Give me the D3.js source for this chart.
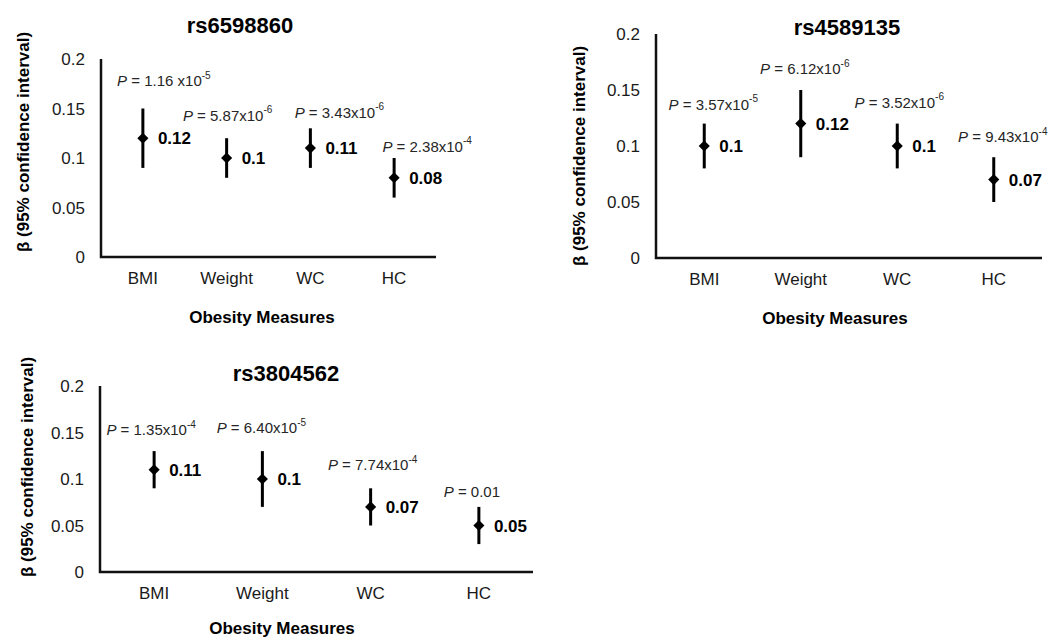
<!DOCTYPE html>
<html>
<head>
<meta charset="utf-8">
<script src="https://cdn.jsdelivr.net/npm/d3@7"></script>
<style>
  body { margin: 0; background: #fff; }
  text { font-family: "Liberation Sans", Arial, sans-serif; }
</style>
</head>
<body>
<div id="main"></div>
<script>
// ---- data ----
let measures = ['BMI', 'Weight', 'WC', 'HC'];
let snps = ['rs6598860', 'rs4589135', 'rs3804562'];
let betas  = [[0.12, 0.10, 0.11, 0.08], [0.10, 0.12, 0.10, 0.07], [0.11, 0.10, 0.07, 0.05]];
let ciLow  = [[0.09, 0.08, 0.09, 0.06], [0.08, 0.09, 0.08, 0.05], [0.09, 0.07, 0.05, 0.03]];
let ciHigh = [[0.15, 0.12, 0.13, 0.10], [0.12, 0.15, 0.12, 0.09], [0.13, 0.13, 0.09, 0.07]];
let betaLabels = [['0.12', '0.1', '0.11', '0.08'], ['0.1', '0.12', '0.1', '0.07'], ['0.11', '0.1', '0.07', '0.05']];
let pMantissa = [['1.16 x10', '5.87x10', '3.43x10', '2.38x10'],
                 ['3.57x10', '6.12x10', '3.52x10', '9.43x10'],
                 ['1.35x10', '6.40x10', '7.74x10', '0.01']];
let pExponent = [['-5', '-6', '-6', '-4'], ['-5', '-6', '-6', '-4'], ['-4', '-5', '-4', '']];
let yTicks = [0, 0.05, 0.1, 0.15, 0.2];
let yTickLabels = ['0', '0.05', '0.1', '0.15', '0.2'];
let yTitle = 'β (95% confidence interval)';
let xTitle = 'Obesity Measures';

// ---- layout (pixels), one entry per panel ----
let panels = [
  {x0: 101, x1: 436, yTop: 59, yBot: 257, titleX: 240, titleY: 25, ylabX: 23, ylabY: 142, xtX: 262, xtY: 317,
   pDx: [21, 1, 29, 33], pAt: [0.178, 0.143, 0.146, 0.112]},
  {x0: 656, x1: 1042, yTop: 34, yBot: 258, titleX: 847, titleY: 27, ylabX: 579, ylabY: 156, xtX: 835, xtY: 318,
   pDx: [9, 4, 2, 9], pAt: [0.137, 0.169, 0.139, 0.108]},
  {x0: 100, x1: 533, yTop: 386, yBot: 572, titleX: 286, titleY: 373, ylabX: 27, ylabY: 467, xtX: 282, xtY: 628,
   pDx: [-3, -1, 2, -7], pAt: [0.153, 0.155, 0.115, 0.086]}
];

let [W, H] = [1058, 638];
let svg = d3.select('#main').append('svg').attr('width', W).attr('height', H);

panels.forEach((p, k) => {
  let g = svg.append('g');
  let x = d3.scaleBand().domain(measures).range([p.x0, p.x1]);
  let y = d3.scaleLinear().domain([0, 0.2]).range([p.yBot, p.yTop]);
  let cx = m => x(m) + x.bandwidth() / 2;

  // axes lines
  g.append('path')
    .attr('d', `M${p.x0},${p.yTop}V${p.yBot}H${p.x1}`)
    .attr('fill', 'none').attr('stroke', '#111').attr('stroke-width', 2.5);

  // y tick labels
  g.selectAll('.ytick').data(yTicks).join('text')
    .attr('x', p.x0 - 16).attr('y', d => y(d)).attr('dy', '0.36em')
    .attr('text-anchor', 'end').attr('font-size', 17).attr('fill', '#1a1a1a')
    .text((d, i) => yTickLabels[i]);

  // category labels
  g.selectAll('.xtick').data(measures).join('text')
    .attr('x', d => cx(d)).attr('y', p.yBot + 21).attr('dy', '0.36em')
    .attr('text-anchor', 'middle').attr('font-size', 17).attr('fill', '#1a1a1a')
    .text(d => d);

  // titles
  g.append('text').attr('x', p.titleX).attr('y', p.titleY).attr('dy', '0.36em')
    .attr('text-anchor', 'middle').attr('font-size', 22).attr('font-weight', 'bold')
    .text(snps[k]);
  g.append('text').attr('x', p.xtX).attr('y', p.xtY).attr('dy', '0.36em')
    .attr('text-anchor', 'middle').attr('font-size', 17).attr('font-weight', 'bold')
    .text(xTitle);
  g.append('text')
    .attr('transform', `translate(${p.ylabX},${p.ylabY}) rotate(-90)`)
    .attr('dy', '0.36em').attr('text-anchor', 'middle')
    .attr('font-size', 17).attr('font-weight', 'bold')
    .text(yTitle);

  let rows = measures.map((m, i) => ({m, i, b: betas[k][i], lo: ciLow[k][i], hi: ciHigh[k][i]}));

  // error bars
  g.selectAll('.ci').data(rows).join('line')
    .attr('x1', d => cx(d.m)).attr('x2', d => cx(d.m))
    .attr('y1', d => y(d.lo)).attr('y2', d => y(d.hi))
    .attr('stroke', '#000').attr('stroke-width', 3);

  // diamonds
  g.selectAll('.pt').data(rows).join('path')
    .attr('d', d3.symbol(d3.symbolSquare, 62))
    .attr('transform', d => `translate(${cx(d.m)},${y(d.b)}) rotate(45)`)
    .attr('fill', '#000');

  // beta labels
  g.selectAll('.bl').data(rows).join('text')
    .attr('x', d => cx(d.m) + 15).attr('y', d => y(d.b)).attr('dy', '0.36em')
    .attr('font-size', 17).attr('font-weight', 'bold').attr('fill', '#000')
    .text(d => betaLabels[k][d.i]);

  // P value labels
  let pl = g.selectAll('.pl').data(rows).join('text')
    .attr('x', d => cx(d.m) + p.pDx[d.i]).attr('y', d => y(p.pAt[d.i])).attr('dy', '0.36em')
    .attr('text-anchor', 'middle').attr('font-size', 15).attr('fill', '#262626');
  pl.append('tspan').attr('font-style', 'italic').text('P');
  pl.append('tspan').text(d => ' = ' + pMantissa[k][d.i]);
  pl.append('tspan').attr('font-size', 10).attr('dy', '-0.75em')
    .text(d => pExponent[k][d.i]);
});
</script>
</body>
</html>
